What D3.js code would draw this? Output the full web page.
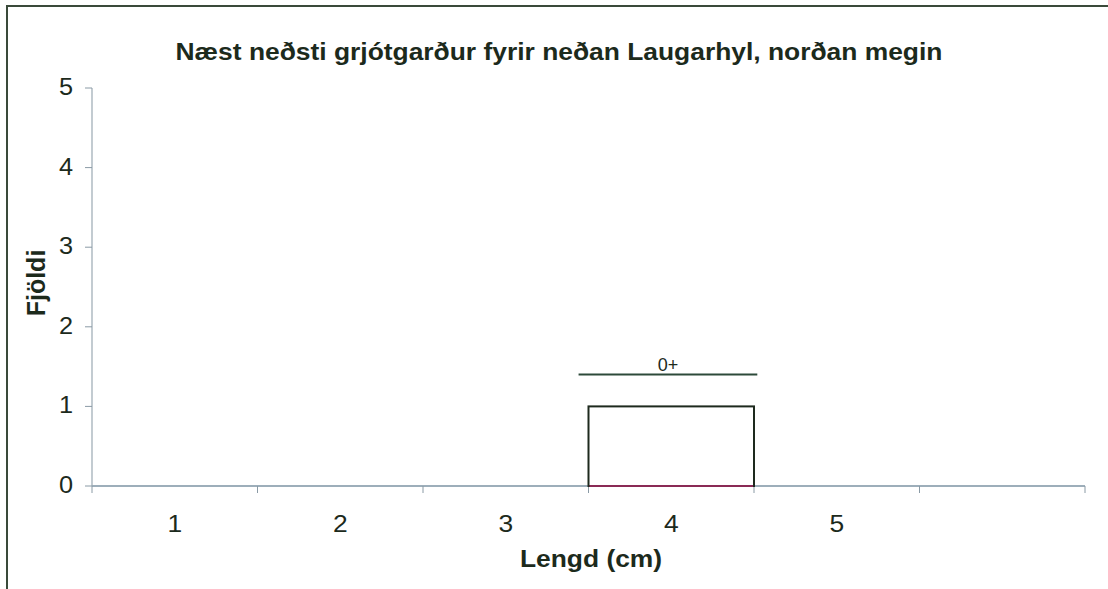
<!DOCTYPE html>
<html>
<head>
<meta charset="utf-8">
<script src="https://cdn.jsdelivr.net/npm/d3@7"></script>
<style>
  body { margin: 0; background: #fff; }
  svg { display: block; font-family: Arial, "Liberation Sans", sans-serif; }
</style>
</head>
<body>
<svg id="chart" width="1108" height="589"></svg>
<script>
// data
const categories = ['1', '2', '3', '4', '5', '']
const counts = [0, 0, 0, 1, 0, 0]
const yTicks = [0, 1, 2, 3, 4, 5]
// age-group marker above the bars: label, span in length units, height
const groupLabels = ['0+']
const groupFrom = [3.44]
const groupTo = [4.52]
const groupAt = [1.4]

const TITLE = 'Næst neðsti grjótgarður fyrir neðan Laugarhyl, norðan megin'
const MARGINS = { top: 88, left: 92, bottom: 103, right: 23 }
const INK = '#1c2a1c'
const STRETCH = 1.1     // the scanned original is a bit wider than tall

const svgEl = d3.select('#chart')
const W = +svgEl.attr('width'), H = +svgEl.attr('height')
const width = W - MARGINS.left - MARGINS.right
const height = H - MARGINS.top - MARGINS.bottom

// outer frame (cut off at right/bottom like the scan)
svgEl.append('rect')
  .attr('x', 7).attr('y', 6).attr('width', 1120).attr('height', 620)
  .attr('fill', 'none').attr('stroke', '#3a4a3a').attr('stroke-width', 2)

const g = svgEl.append('g').attr('transform', `translate(${MARGINS.left},${MARGINS.top})`)

const x = d3.scaleBand().domain(categories).range([0, width]).padding(0)
const xLin = d3.scaleLinear().domain([0.5, categories.length + 0.5]).range([0, width])
const y = d3.scaleLinear().domain([0, 5]).range([height, 0])

// x axis
const xAxis = g.append('g').attr('transform', `translate(0,${height})`)
xAxis.append('line').attr('x1', 0).attr('x2', width).attr('stroke', '#7d93a3').attr('stroke-width', 1.5)
xAxis.selectAll('line.tick').data(d3.range(categories.length + 1)).join('line')
  .attr('class', 'tick')
  .attr('x1', i => i * x.step()).attr('x2', i => i * x.step())
  .attr('y1', 0).attr('y2', 7).attr('stroke', '#8a9aa5')
xAxis.selectAll('text').data(categories).join('text')
  .attr('transform', d => `translate(${x(d) + x.bandwidth() / 2},46) scale(${STRETCH},1)`)
  .attr('text-anchor', 'middle').attr('font-size', 24).attr('fill', INK)
  .text(d => d)

// y axis
const yAxis = g.append('g')
yAxis.append('line').attr('y1', 0).attr('y2', height).attr('stroke', '#9aa8b2').attr('stroke-width', 1.2)
yAxis.selectAll('g.tick').data(yTicks).join('g')
  .attr('class', 'tick')
  .attr('transform', d => `translate(0,${y(d)})`)
  .call(t => t.append('line').attr('x1', -7).attr('x2', 0).attr('stroke', '#8a9aa5'))
  .call(t => t.append('text').attr('transform', `translate(-19,0) scale(${STRETCH},1)`)
    .attr('dy', '0.3em')
    .attr('text-anchor', 'end').attr('font-size', 23).attr('fill', INK).text(d => d))

// bars (drawn over the axis line so the coloured base shows)
const bars = categories.map((c, i) => ({ key: c, value: counts[i] })).filter(d => d.value > 0)
g.selectAll('rect.bar').data(bars).join('rect')
  .attr('class', 'bar')
  .attr('x', d => x(d.key)).attr('y', d => y(d.value))
  .attr('width', x.bandwidth()).attr('height', d => y(0) - y(d.value))
  .attr('fill', '#fff').attr('stroke', '#1e2a1e').attr('stroke-width', 2)
g.selectAll('line.barbase').data(bars).join('line')
  .attr('class', 'barbase')
  .attr('x1', d => x(d.key) + 1).attr('x2', d => x(d.key) + x.bandwidth() - 1)
  .attr('y1', y(0)).attr('y2', y(0))
  .attr('stroke', '#8a2a55').attr('stroke-width', 2)

// age-group marker
const groups = groupLabels.map((l, i) => ({ label: l, from: groupFrom[i], to: groupTo[i], at: groupAt[i] }))
g.selectAll('line.group').data(groups).join('line')
  .attr('class', 'group')
  .attr('x1', d => xLin(d.from)).attr('x2', d => xLin(d.to))
  .attr('y1', d => y(d.at)).attr('y2', d => y(d.at))
  .attr('stroke', '#2d4a3a').attr('stroke-width', 2)
g.selectAll('text.group').data(groups).join('text')
  .attr('class', 'group')
  .attr('x', d => xLin((d.from + d.to) / 2)).attr('y', d => y(d.at) - 4)
  .attr('text-anchor', 'middle').attr('font-size', 18).attr('fill', INK)
  .text(d => d.label)

// titles
svgEl.append('text')
  .attr('transform', `translate(559,60) scale(${STRETCH},1)`).attr('text-anchor', 'middle')
  .attr('font-size', 24).attr('font-weight', 'bold').attr('fill', INK)
  .text(TITLE)
svgEl.append('text')
  .attr('transform', `translate(591,567) scale(${STRETCH},1)`).attr('text-anchor', 'middle')
  .attr('font-size', 24).attr('font-weight', 'bold').attr('fill', INK)
  .text('Lengd (cm)')
svgEl.append('text')
  .attr('transform', `translate(45,283) rotate(-90)`)
  .attr('text-anchor', 'middle')
  .attr('font-size', 25).attr('font-weight', 'bold').attr('fill', INK)
  .text('Fjöldi')
</script>
</body>
</html>
